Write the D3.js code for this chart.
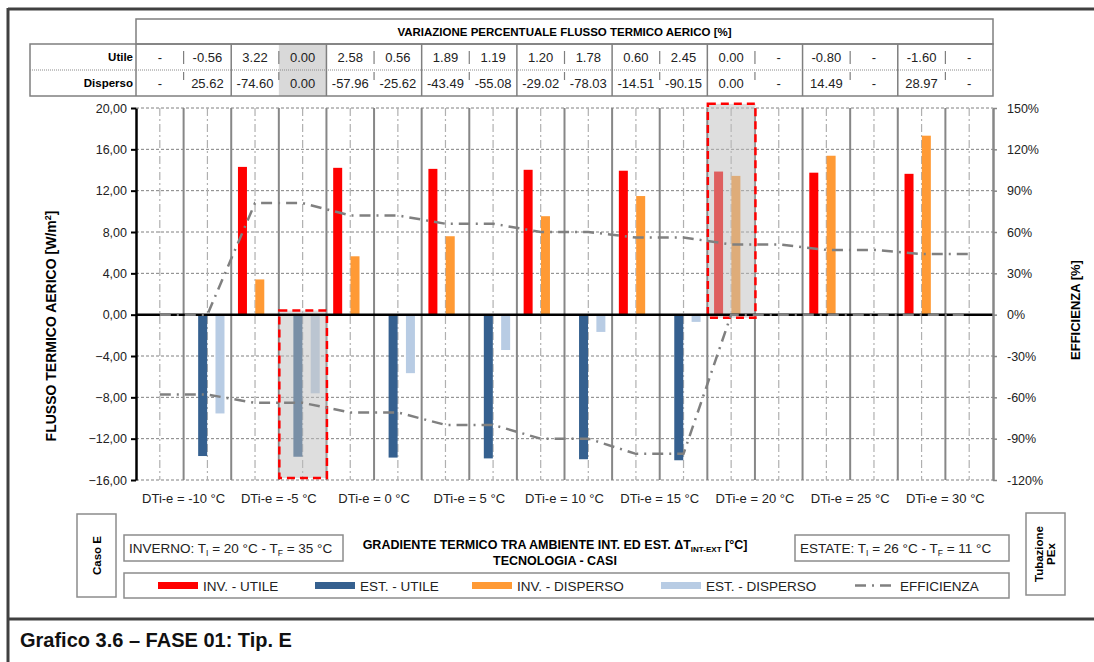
<!DOCTYPE html>
<html>
<head>
<meta charset="utf-8">
<script src="https://cdn.jsdelivr.net/npm/d3@7"></script>
<style>
  html, body { margin: 0; padding: 0; background: #fff; }
  svg { display: block; font-family: "Liberation Sans", Arial, sans-serif; }
</style>
</head>
<body>
<svg id="chart" width="1094" height="662"></svg>
<script>
// ---------------- DATA ----------------
const categories = ["DTi-e = -10 °C", "DTi-e = -5 °C", "DTi-e = 0 °C", "DTi-e = 5 °C", "DTi-e = 10 °C",
                    "DTi-e = 15 °C", "DTi-e = 20 °C", "DTi-e = 25 °C", "DTi-e = 30 °C"];
const invUtile    = [null, 14.30, 14.21, 14.11, 14.02, 13.93, 13.85, 13.74, 13.63];
const estUtile    = [-13.68, -13.75, -13.83, -13.91, -13.99, -14.09, null, null, null];
const invDisperso = [null, 3.41, 5.65, 7.59, 9.53, 11.48, 13.43, 15.38, 17.32];
const estDisperso = [-9.56, -7.61, -5.66, -3.42, -1.67, -0.70, null, null, null];
// efficiency (%), two points per category
const effInv = [0, 0, 81, 81, 72, 72, 66, 66, 60, 60, 56, 56, 51, 51, 47, 47, 44, 44];
const effEst = [-58, -58, -64, -64, -71, -71, -80, -80, -90, -90, -101, -101, 0, 0, 0, 0, 0, 0];
// table
const tableTitle = "VARIAZIONE PERCENTUALE  FLUSSO TERMICO AERICO  [%]";
const rowLabels = ["Utile", "Disperso"];
const utileRow    = ["-", "-0.56", "3.22", "0.00", "2.58", "0.56", "1.89", "1.19", "1.20", "1.78", "0.60", "2.45", "0.00", "-", "-0.80", "-", "-1.60", "-"];
const dispersoRow = ["-", "25.62", "-74.60", "0.00", "-57.96", "-25.62", "-43.49", "-55.08", "-29.02", "-78.03", "-14.51", "-90.15", "0.00", "-", "14.49", "-", "28.97", "-"];
const highlightedColumn = 3;
// axes
const yTicks  = [-16, -12, -8, -4, 0, 4, 8, 12, 16, 20];
const y2Ticks = [-120, -90, -60, -30, 0, 30, 60, 90, 120, 150];
// highlighted boxes: half-column index, value range (left axis)
const highlights = [{half: 3, lo: -15.8, hi: 0.4}, {half: 12, lo: -0.3, hi: 20.4}];
const legendLabels = ["INV. - UTILE", "EST. - UTILE", "INV. - DISPERSO", "EST. - DISPERSO", "EFFICIENZA"];

// ---------------- LAYOUT / STYLE ----------------
const L = 136, R = 993, T = 108, B = 480;
const COL = {invU: "#ff0000", estU: "#35608f", invD: "#ff9a35", estD: "#b8cce4", eff: "#808080", grid: "#808080"};
const barOffset = {invU: 0.118, invD: 0.300, estU: 0.700, estD: 0.882};
const BW = 9;
const FONT = "Liberation Sans, Arial, sans-serif";

const svg = d3.select("#chart");
svg.append("rect").attr("width", 1094).attr("height", 662).attr("fill", "#fff");

const x = d3.scaleBand().domain(categories).range([L, R]).padding(0);
const half = d3.scaleBand().domain(d3.range(categories.length * 2)).range([L, R]).padding(0);
const y = d3.scaleLinear().domain([-16, 20]).range([B, T]);
const y2 = d3.scaleLinear().domain([-120, 150]).range([B, T]);
const hx = i => half(i) + half.bandwidth() / 2;

// outer frame
svg.append("line").attr("x1", 8).attr("x2", 1094).attr("y1", 9).attr("y2", 9).attr("stroke", "#404040").attr("stroke-width", 3);
svg.append("line").attr("x1", 8).attr("x2", 8).attr("y1", 8).attr("y2", 662).attr("stroke", "#404040").attr("stroke-width", 3);
svg.append("line").attr("x1", 8).attr("x2", 1094).attr("y1", 619).attr("y2", 619).attr("stroke", "#404040").attr("stroke-width", 3);
svg.append("text").attr("x", 20).attr("y", 647).attr("font-size", 20).attr("font-weight", "bold").attr("fill", "#111")
  .text("Grafico 3.6 – FASE 01: Tip. E");

// ---------------- TABLE ----------------
const tTop = 19, tHead = 44, tMid = 70, tBot = 96, tLab = 30;
const tg = svg.append("g");
tg.append("rect").attr("x", half(highlightedColumn)).attr("y", tHead).attr("width", half.bandwidth()).attr("height", tBot - tHead)
  .attr("fill", "#d9d9d9");
tg.append("rect").attr("x", L).attr("y", tTop).attr("width", R - L).attr("height", tHead - tTop)
  .attr("fill", "none").attr("stroke", "#7f7f7f").attr("stroke-width", 1.5);
tg.append("rect").attr("x", tLab).attr("y", tHead).attr("width", R - tLab).attr("height", tBot - tHead)
  .attr("fill", "none").attr("stroke", "#7f7f7f").attr("stroke-width", 1.5);
tg.append("line").attr("x1", tLab).attr("x2", R).attr("y1", tMid).attr("y2", tMid)
  .attr("stroke", "#8a8a8a").attr("stroke-width", 1).attr("stroke-dasharray", "1,1");
tg.append("text").attr("x", (L + R) / 2).attr("y", (tTop + tHead) / 2 + 4).attr("text-anchor", "middle")
  .attr("font-size", 11.5).attr("font-weight", "bold").text(tableTitle);
categories.forEach((c, i) => {
  tg.append("line").attr("x1", x(c)).attr("x2", x(c)).attr("y1", tHead).attr("y2", tBot)
    .attr("stroke", "#7f7f7f").attr("stroke-width", 1.5);
  const hxm = x(c) + x.bandwidth() / 2;
  tg.append("line").attr("x1", hxm).attr("x2", hxm).attr("y1", tHead + 7).attr("y2", tMid - 6)
    .attr("stroke", "#7f7f7f").attr("stroke-width", 1.2);
  tg.append("line").attr("x1", hxm).attr("x2", hxm).attr("y1", tMid + 2).attr("y2", tMid + 10)
    .attr("stroke", "#7f7f7f").attr("stroke-width", 1.2);
});
[utileRow, dispersoRow].forEach((row, r) => {
  const cy = r === 0 ? (tHead + tMid) / 2 : (tMid + tBot) / 2;
  tg.append("text").attr("x", L - 3).attr("y", cy + 4).attr("text-anchor", "end").attr("font-size", 11.5)
    .attr("font-weight", "bold").text(rowLabels[r]);
  row.forEach((v, i) => {
    tg.append("text").attr("x", hx(i)).attr("y", cy + 4.5).attr("text-anchor", "middle").attr("font-size", 13)
      .attr("fill", "#222").text(v);
  });
});

// ---------------- GRID ----------------
const g = svg.append("g");
yTicks.forEach(t => {
  if (t === 0) return;
  g.append("line").attr("x1", L).attr("x2", R).attr("y1", y(t)).attr("y2", y(t))
    .attr("stroke", COL.grid).attr("stroke-width", 1).attr("stroke-dasharray", "3,2");
});
d3.range(categories.length * 2).forEach(i => {
  g.append("line").attr("x1", hx(i)).attr("x2", hx(i)).attr("y1", T).attr("y2", B)
    .attr("stroke", "#b0b0b0").attr("stroke-width", 1.2).attr("stroke-dasharray", "8,3,2,3");
  if (i > 0) {
    g.append("line").attr("x1", half(i)).attr("x2", half(i)).attr("y1", T).attr("y2", B)
      .attr("stroke", "#878787").attr("stroke-width", 2);
  }
});

// ---------------- BARS ----------------
const series = [
  {key: "invU", vals: invUtile}, {key: "invD", vals: invDisperso},
  {key: "estU", vals: estUtile}, {key: "estD", vals: estDisperso}
];
series.forEach(s => {
  g.selectAll(null).data(categories.map((c, i) => ({c, v: s.vals[i]})).filter(d => d.v != null))
    .enter().append("rect")
    .attr("x", d => x(d.c) + barOffset[s.key] * x.bandwidth() - BW / 2)
    .attr("width", BW)
    .attr("y", d => y(Math.max(0, d.v)))
    .attr("height", d => Math.abs(y(d.v) - y(0)))
    .attr("fill", COL[s.key]);
});

// highlight boxes
highlights.forEach(h => {
  g.append("rect").attr("x", half(h.half) + 0.5).attr("width", half.bandwidth())
    .attr("y", y(h.hi)).attr("height", y(h.lo) - y(h.hi))
    .attr("fill", "rgba(190,190,190,0.5)").attr("stroke", "#ff0000").attr("stroke-width", 2.5)
    .attr("stroke-dasharray", "8,5");
});

// zero line
g.append("line").attr("x1", L).attr("x2", R).attr("y1", y(0)).attr("y2", y(0)).attr("stroke", "#000").attr("stroke-width", 2.5);

// efficiency lines
const line = d3.line().x((d, i) => hx(i)).y(d => y2(d));
[effInv, effEst].forEach(arr => {
  g.append("path").attr("d", line(arr)).attr("fill", "none").attr("stroke", COL.eff)
    .attr("stroke-width", 2.5).attr("stroke-dasharray", "11,6,2,6");
});

// ---------------- AXES ----------------
const fmt = d => d3.format(".2f")(d).replace(".", ",");
const ax = svg.append("g").attr("transform", `translate(${L},0)`)
  .call(d3.axisLeft(y).tickValues(yTicks).tickSize(5).tickSizeOuter(0).tickPadding(4).tickFormat(fmt));
ax.select(".domain").attr("stroke", "#000").attr("stroke-width", 2.5);
ax.selectAll(".tick line").attr("stroke", "#000").attr("stroke-width", 2);
ax.selectAll(".tick text").attr("font-family", FONT).attr("font-size", 12.5).attr("fill", "#222");

const ax2 = svg.append("g").attr("transform", `translate(${R},0)`)
  .call(d3.axisRight(y2).tickValues(y2Ticks).tickSize(4).tickSizeOuter(0).tickPadding(10).tickFormat(d => d + "%"));
ax2.select(".domain").attr("stroke", "#878787").attr("stroke-width", 2.5);
ax2.selectAll(".tick line").attr("stroke", "#878787").attr("stroke-width", 1.5);
ax2.selectAll(".tick text").attr("font-family", FONT).attr("font-size", 12.5).attr("fill", "#222");

// x labels
svg.selectAll(null).data(categories).enter().append("text")
  .attr("x", d => x(d) + x.bandwidth() / 2).attr("y", 503).attr("text-anchor", "middle")
  .attr("font-size", 13).attr("fill", "#222").text(d => d);

// axis titles
const lt = svg.append("text").attr("transform", "translate(56,326) rotate(-90)").attr("text-anchor", "middle")
  .attr("font-size", 14).attr("font-weight", "bold");
lt.append("tspan").text("FLUSSO TERMICO AERICO  [W/m");
lt.append("tspan").attr("dy", -5).attr("font-size", 9).text("2");
lt.append("tspan").attr("dy", 5).text("]");
svg.append("text").attr("transform", "translate(1080,310) rotate(-90)").attr("text-anchor", "middle")
  .attr("font-size", 13).attr("font-weight", "bold").text("EFFICIENZA  [%]");

// ---------------- BOTTOM INFO / LEGEND ----------------
const bx = svg.append("g").attr("font-size", 12);
// Caso E
bx.append("rect").attr("x", 77).attr("y", 514).attr("width", 39).attr("height", 83).attr("fill", "none").attr("stroke", "#8c8c8c").attr("stroke-width", 1.5);
bx.append("text").attr("transform", "translate(100.5,555.5) rotate(-90)").attr("text-anchor", "middle")
  .attr("font-size", 11.5).attr("font-weight", "bold").text("Caso  E");
// Tubazione
bx.append("rect").attr("x", 1026).attr("y", 513).attr("width", 39).attr("height", 82).attr("fill", "none").attr("stroke", "#8c8c8c").attr("stroke-width", 1.5);
bx.append("text").attr("transform", "translate(1043,554) rotate(-90)").attr("text-anchor", "middle")
  .attr("font-size", 11.5).attr("font-weight", "bold").text("Tubazione");
bx.append("text").attr("transform", "translate(1054.5,554) rotate(-90)").attr("text-anchor", "middle")
  .attr("font-size", 11.5).attr("font-weight", "bold").text("PEx");

function condText(x0, y0, season, ti, tf) {
  const t = bx.append("text").attr("x", x0).attr("y", y0).attr("font-size", 13.5).attr("fill", "#222");
  t.append("tspan").text(season + ": T");
  t.append("tspan").attr("dy", 3).attr("font-size", 8.5).text("I");
  t.append("tspan").attr("dy", -3).text(" = " + ti + " °C - T");
  t.append("tspan").attr("dy", 3).attr("font-size", 8.5).text("F");
  t.append("tspan").attr("dy", -3).text(" = " + tf + " °C");
}
bx.append("rect").attr("x", 124).attr("y", 535).attr("width", 219).attr("height", 26).attr("fill", "none").attr("stroke", "#8c8c8c").attr("stroke-width", 1.5);
condText(129, 553, "INVERNO", 20, 35);
bx.append("rect").attr("x", 795).attr("y", 535).attr("width", 214).attr("height", 26).attr("fill", "none").attr("stroke", "#8c8c8c").attr("stroke-width", 1.5);
condText(800, 553, "ESTATE", 26, 11);

const tt = bx.append("text").attr("x", 555).attr("y", 549).attr("text-anchor", "middle").attr("font-size", 12.5).attr("font-weight", "bold");
tt.append("tspan").text("GRADIENTE TERMICO TRA AMBIENTE INT. ED EST. ΔT");
tt.append("tspan").attr("dy", 3).attr("font-size", 8).text("INT-EXT");
tt.append("tspan").attr("dy", -3).text("  [°C]");
bx.append("text").attr("x", 555).attr("y", 565).attr("text-anchor", "middle").attr("font-size", 12.5).attr("font-weight", "bold")
  .text("TECNOLOGIA - CASI");

// legend
bx.append("rect").attr("x", 124).attr("y", 573).attr("width", 885).attr("height", 25).attr("fill", "none").attr("stroke", "#8c8c8c").attr("stroke-width", 1.5);
const legX = [158, 315, 472, 661, 855];
const legKeys = ["invU", "estU", "invD", "estD", "eff"];
legKeys.forEach((k, i) => {
  if (k === "eff") {
    bx.append("line").attr("x1", legX[i]).attr("x2", legX[i] + 38).attr("y1", 585.5).attr("y2", 585.5)
      .attr("stroke", COL.eff).attr("stroke-width", 2.5).attr("stroke-dasharray", "11,6,2,6");
  } else {
    bx.append("rect").attr("x", legX[i]).attr("y", 582).attr("width", 40).attr("height", 7).attr("fill", COL[k]);
  }
  bx.append("text").attr("x", legX[i] + 45).attr("y", 590.5).attr("font-size", 13.5).attr("fill", "#222").text(legendLabels[i]);
});
</script>
</body>
</html>
